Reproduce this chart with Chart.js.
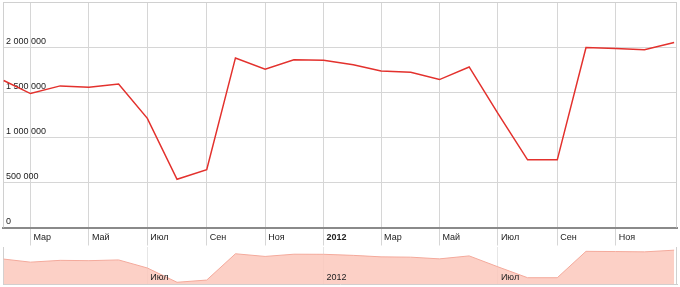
<!DOCTYPE html>
<html>
<head>
<meta charset="utf-8">
<script src="https://cdn.jsdelivr.net/npm/chart.js@4/dist/chart.umd.min.js"></script>
<style>
  body { margin: 0; background: #fff; }
  #wrap { position: relative; width: 680px; height: 287px; }
  canvas { position: absolute; left: 0; }
  #main { top: 0; }
  #nav { top: 246px; }
</style>
</head>
<body>
<div id="wrap">
  <canvas id="main" width="680" height="246"></canvas>
  <canvas id="nav" width="680" height="41"></canvas>
</div>
<script>
// monthly values, first day of each month
const months = ['2011-02', '2011-03', '2011-04', '2011-05', '2011-06', '2011-07', '2011-08', '2011-09',
    '2011-10', '2011-11', '2011-12', '2012-01', '2012-02', '2012-03', '2012-04', '2012-05',
    '2012-06', '2012-07', '2012-08', '2012-09', '2012-10', '2012-11', '2012-12', '2013-01'];
const values = [1630000, 1485000, 1570000, 1555000, 1590000, 1210000, 535000, 640000,
    1880000, 1755000, 1860000, 1855000, 1805000, 1735000, 1720000, 1640000,
    1780000, 1265000, 750000, 750000, 1995000, 1985000, 1970000, 2050000];

// axis ticks
const tickMonths = ['2011-03', '2011-05', '2011-07', '2011-09', '2011-11', '2012-01',
    '2012-03', '2012-05', '2012-07', '2012-09', '2012-11'];
const tickLabels = ['Мар', 'Май', 'Июл', 'Сен', 'Ноя', '2012', 'Мар', 'Май', 'Июл', 'Сен', 'Ноя'];
const yTicks = [0, 500000, 1000000, 1500000, 2000000];

const navTickMonths = ['2011-07', '2012-01', '2012-07'];
const navTickLabels = ['Июл', '2012', 'Июл'];

const FONT = 'Arial, "Liberation Sans", sans-serif';

// days since 1 Feb 2011
const dayOf = (m) => {
    const [y, mo] = m.split('-').map(Number);
    return (Date.UTC(y, mo - 1, 1) - Date.UTC(2011, 1, 1)) / 86400000;
};

const points = months.map((m, i) => ({ x: dayOf(m), y: values[i] }));

const formatNum = (v) => String(v).replace(/\B(?=(\d{3})+(?!\d))/g, ' ');

// no extra room for labels overflowing the ends
const noPad = (axis) => {
    axis.paddingTop = 0;
    axis.paddingBottom = 0;
    axis.paddingLeft = 0;
    axis.paddingRight = 0;
};

// light frame around the plot
const frame = {
    id: 'frame',
    beforeDatasetsDraw(chart, args, opts) {
        const a = chart.chartArea;
        const c = chart.ctx;
        c.save();
        c.strokeStyle = opts.color;
        c.lineWidth = 1;
        c.beginPath();
        if (opts.top) {
            c.moveTo(a.left + 0.5, a.top + 0.5);
            c.lineTo(a.right - 0.5, a.top + 0.5);
        }
        c.moveTo(a.right - 0.5, a.top);
        c.lineTo(a.right - 0.5, a.bottom);
        c.moveTo(a.left + 0.5, a.top);
        c.lineTo(a.left + 0.5, a.bottom);
        c.stroke();
        c.restore();
    }
};

Chart.defaults.animation = false;

new Chart(document.getElementById('main'), {
    type: 'line',
    data: {
        datasets: [{
            data: points,
            borderColor: '#e3312d',
            borderWidth: 1.5,
            pointRadius: 0,
            tension: 0,
            fill: false
        }]
    },
    options: {
        responsive: false,
        devicePixelRatio: 1,
        layout: { padding: { left: 3, right: 3, top: 2, bottom: 0 } },
        plugins: {
            legend: { display: false },
            tooltip: { enabled: false },
            frame: { color: '#d0d0d0', top: true }
        },
        scales: {
            x: {
                type: 'linear',
                min: -0.7,
                max: 703,
                afterBuildTicks: (axis) => {
                    axis.ticks = tickMonths.map(m => ({ value: dayOf(m) }));
                },
                afterFit: (axis) => { axis.height = 18.5; noPad(axis); },
                grid: { color: '#d6d6d6', tickLength: 18, tickColor: '#d6d6d6' },
                border: { color: '#8a8a8a', width: 2 },
                ticks: {
                    autoSkip: false,
                    maxRotation: 0,
                    align: 'start',
                    labelOffset: 3,
                    padding: -13,
                    color: '#222',
                    font: (c) => ({ family: FONT, size: 9, weight: tickLabels[c.index] === '2012' ? 'bold' : 'normal' }),
                    callback: (v, i) => tickLabels[i]
                }
            },
            y: {
                min: 0,
                max: 2500000,
                afterBuildTicks: (axis) => {
                    axis.ticks = yTicks.map(v => ({ value: v }));
                },
                afterFit: (axis) => { axis.width = 0; noPad(axis); },
                grid: { color: '#d6d6d6', drawTicks: false },
                border: { display: false },
                ticks: {
                    mirror: true,
                    padding: 3,
                    labelOffset: -6,
                    color: '#222',
                    font: { family: FONT, size: 9 },
                    callback: (v) => formatNum(v)
                }
            }
        }
    },
    plugins: [frame]
});

// range navigator under the chart
new Chart(document.getElementById('nav'), {
    type: 'line',
    data: {
        datasets: [{
            data: points,
            borderColor: '#f4aa9c',
            backgroundColor: 'rgba(252, 200, 188, 0.85)',
            borderWidth: 1,
            pointRadius: 0,
            tension: 0,
            fill: 'start'
        }]
    },
    options: {
        responsive: false,
        devicePixelRatio: 1,
        layout: { padding: { left: 3, right: 3, top: 1, bottom: 0 } },
        plugins: {
            legend: { display: false },
            tooltip: { enabled: false },
            frame: { color: '#d0d0d0', top: false }
        },
        scales: {
            x: {
                type: 'linear',
                min: -0.7,
                max: 703,
                afterBuildTicks: (axis) => {
                    axis.ticks = navTickMonths.map(m => ({ value: dayOf(m) }));
                },
                afterFit: (axis) => { axis.height = 2.5; noPad(axis); },
                grid: { color: 'rgba(200, 200, 200, 0.45)', drawTicks: false },
                border: { color: '#cfcfcf', width: 1 },
                ticks: {
                    z: 1,
                    autoSkip: false,
                    maxRotation: 0,
                    mirror: true,
                    align: 'start',
                    labelOffset: 3,
                    padding: 1.5,
                    color: '#222',
                    font: { family: FONT, size: 9 },
                    callback: (v, i) => navTickLabels[i]
                }
            },
            y: {
                display: false,
                min: 430000,
                max: 2200000
            }
        }
    },
    plugins: [frame]
});
</script>
</body>
</html>
